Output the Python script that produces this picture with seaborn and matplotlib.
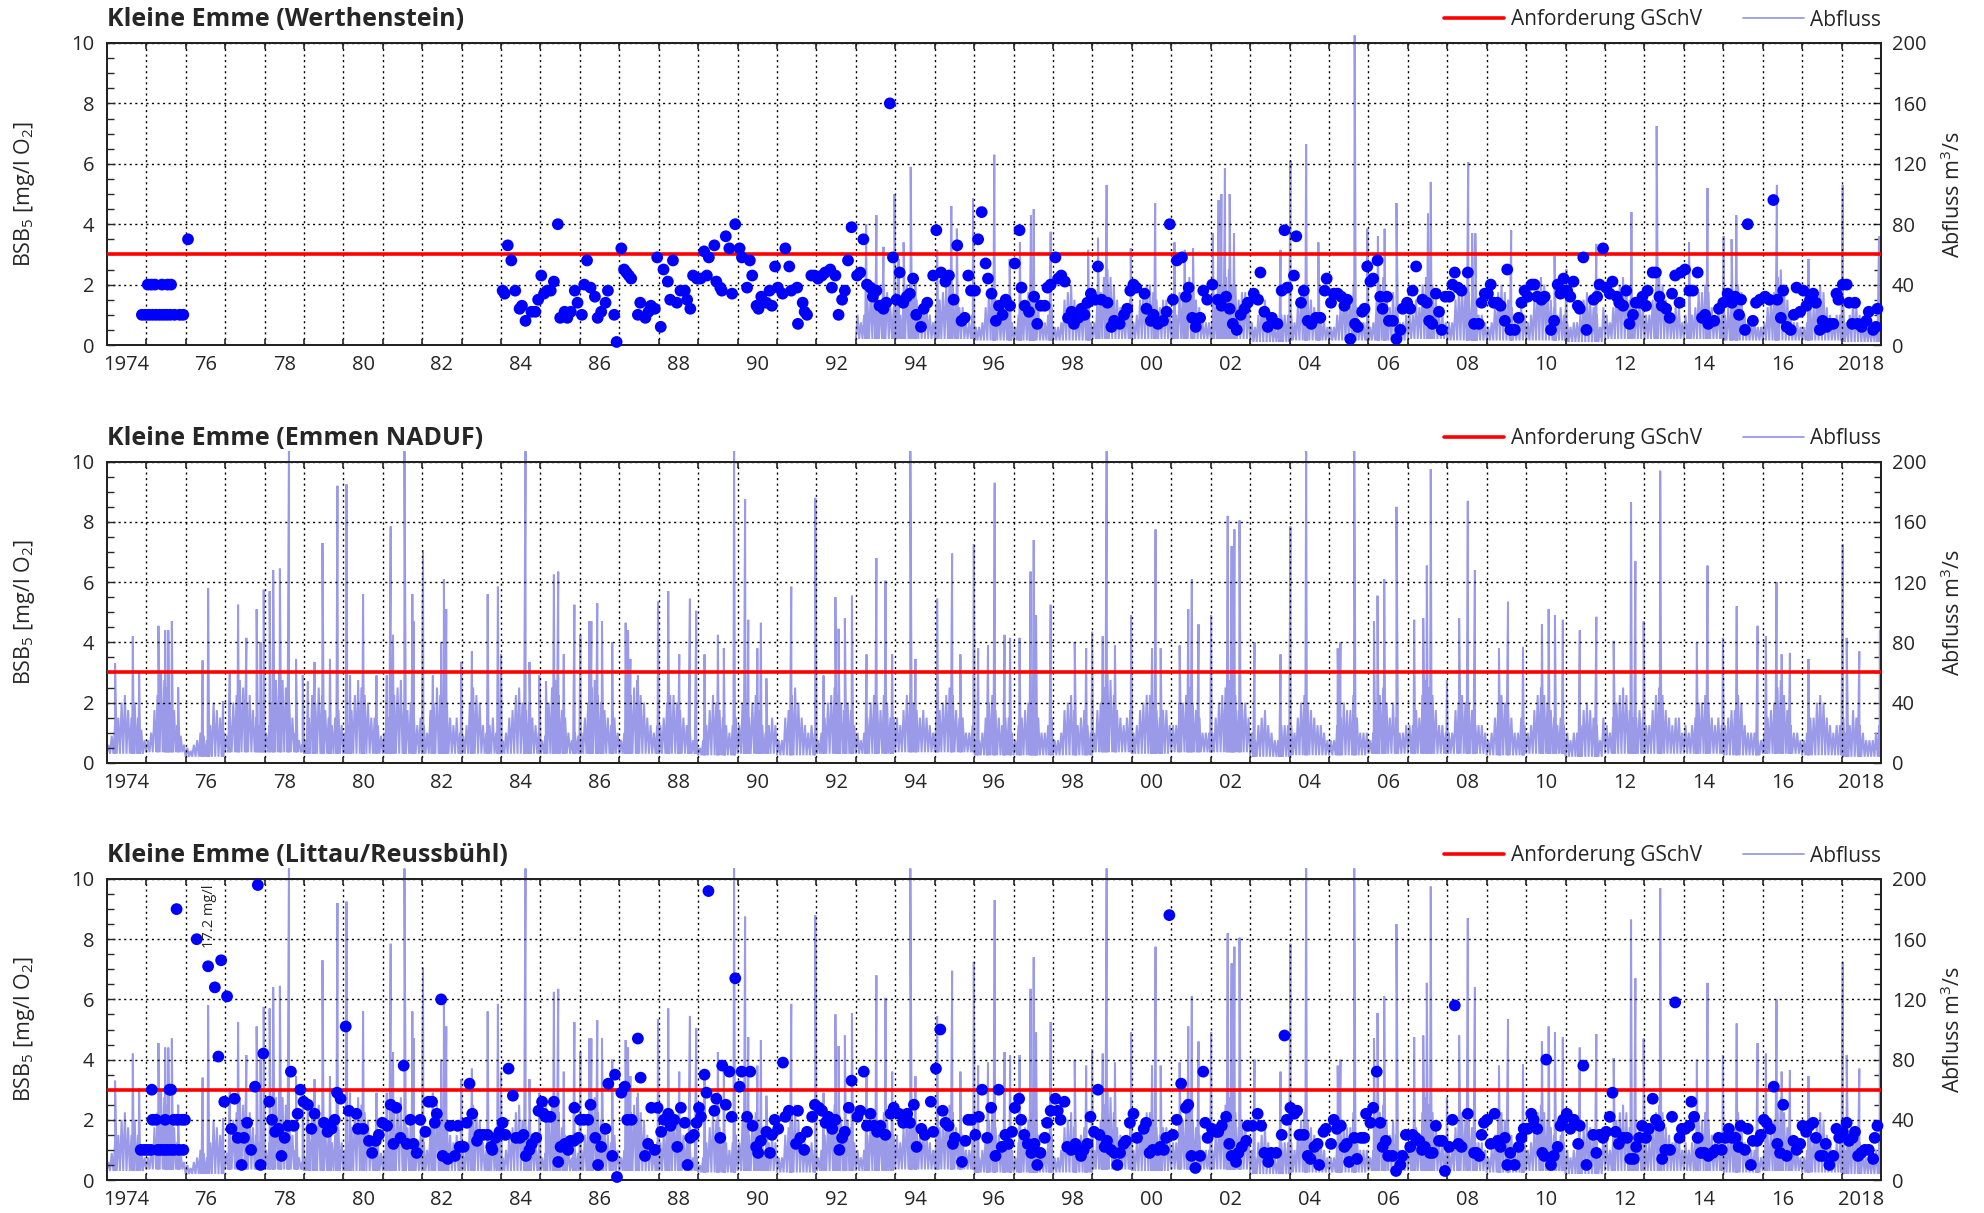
import matplotlib
matplotlib.use("Agg")
import matplotlib.pyplot as plt
from matplotlib.lines import Line2D
from matplotlib.ticker import MultipleLocator, FixedLocator
import seaborn as sns
import pandas as pd

# ---------------- data ----------------
panel_titles = ["Kleine Emme (Werthenstein)", "Kleine Emme (Emmen NADUF)", "Kleine Emme (Littau/Reussbühl)"]
gschv_limit = 3.0
year_labels = ["1974", "76", "78", "80", "82", "84", "86", "88", "90", "92", "94", "96", "98",
               "00", "02", "04", "06", "08", "10", "12", "14", "16", "2018"]
annotation_text = "17.2 mg/l"

# BSB5 samples Werthenstein (decimal year, mg/l O2)
wert_samples = [
(1974.89,1.0),(1974.98,1.0),(1975.07,1.0),(1975.16,1.0),(1975.25,1.0),(1975.34,1.0),(1975.43,1.0),(1975.52,1.0),(1975.61,1.0),(1975.72,1.0),(1975.85,1.0),(1975.94,1.0),
(1975.04,2.0),(1975.13,2.0),(1975.22,2.0),(1975.40,2.0),(1975.54,2.0),(1975.63,2.0),(1976.06,3.5),
(1984.04,1.8),(1984.09,1.7),(1984.17,3.3),(1984.26,2.8),(1984.36,1.8),(1984.47,1.2),(1984.53,1.3),(1984.62,0.8),(1984.77,1.1),(1984.87,1.1),(1984.94,1.5),(1985.02,2.3),(1985.09,1.7),(1985.17,1.8),(1985.26,1.8),(1985.34,2.1),(1985.44,4.0),(1985.50,0.9),(1985.61,1.1),(1985.68,0.9),(1985.77,1.1),(1985.87,1.8),(1985.94,1.4),
(1986.05,1.0),(1986.11,2.0),(1986.18,2.8),(1986.27,1.9),(1986.38,1.6),(1986.45,0.9),(1986.54,1.1),(1986.65,1.4),(1986.71,1.8),(1986.87,1.0),(1986.93,0.1),
(1987.05,3.2),(1987.12,2.5),(1987.18,2.4),(1987.24,2.3),(1987.30,2.2),(1987.47,1.0),(1987.53,1.4),(1987.66,0.9),(1987.74,1.1),(1987.80,1.3),(1987.90,1.2),(1987.96,2.9),
(1988.05,0.6),(1988.12,2.5),(1988.23,2.1),(1988.29,1.5),(1988.36,2.8),(1988.46,1.4),(1988.55,1.8),(1988.66,1.8),(1988.72,1.5),(1988.80,1.2),(1988.87,2.3),(1988.97,2.2),
(1989.06,2.2),(1989.15,3.1),(1989.22,2.3),(1989.27,2.9),(1989.41,3.3),(1989.46,2.1),(1989.56,1.9),(1989.60,1.8),(1989.70,3.6),(1989.79,3.2),(1989.86,1.7),(1989.94,4.0),
(1990.05,3.2),(1990.11,2.9),(1990.24,1.9),(1990.31,2.8),(1990.37,2.3),(1990.48,1.3),(1990.53,1.2),(1990.60,1.6),(1990.73,1.4),(1990.81,1.8),(1990.87,1.3),(1990.95,2.6),
(1991.02,1.9),(1991.14,1.7),(1991.21,3.2),(1991.31,2.6),(1991.36,1.8),(1991.51,1.9),(1991.53,0.7),(1991.65,1.4),(1991.70,1.1),(1991.76,1.0),(1991.87,2.3),(1991.95,2.3),
(1992.04,2.2),(1992.14,2.3),(1992.22,2.4),(1992.35,2.5),(1992.39,1.9),(1992.48,2.3),(1992.56,1.0),(1992.65,1.5),(1992.72,1.8),(1992.80,2.8),(1992.89,3.9),
(1993.03,2.3),(1993.11,2.4),(1993.19,3.5),(1993.28,2.0),(1993.37,1.9),(1993.43,1.6),(1993.52,1.8),(1993.60,1.3),(1993.70,1.2),(1993.77,1.4),(1993.86,8.0),(1993.94,2.9),
(1994.03,1.5),(1994.11,2.4),(1994.20,1.4),(1994.29,1.6),(1994.37,1.7),(1994.45,2.2),(1994.53,1.0),(1994.65,0.6),(1994.72,1.2),(1994.81,1.4),(1994.96,2.3),
(1995.04,3.8),(1995.16,2.4),(1995.27,2.1),(1995.36,2.3),(1995.48,1.5),(1995.57,3.3),
(1995.68,0.8),(1995.76,0.9),(1995.85,2.3),(1995.92,1.8),
(1996.02,1.8),(1996.10,3.5),(1996.19,4.4),(1996.29,2.7),(1996.35,2.2),(1996.44,1.7),(1996.55,0.8),(1996.63,1.3),(1996.72,1.0),(1996.80,1.5),(1996.91,1.3),
(1997.03,2.7),(1997.15,3.8),(1997.20,1.9),(1997.28,1.3),(1997.39,1.1),(1997.52,1.6),(1997.60,0.7),(1997.69,1.3),(1997.79,1.3),(1997.86,1.9),(1997.94,2.0),
(1998.06,2.9),(1998.13,2.2),(1998.21,2.3),(1998.30,2.1),(1998.38,0.9),(1998.47,1.1),(1998.53,0.7),(1998.64,0.9),(1998.72,1.2),(1998.80,1.0),(1998.87,1.4),(1998.96,1.7),
(1999.06,1.5),(1999.14,2.6),(1999.23,1.5),(1999.38,1.4),(1999.48,0.6),(1999.55,0.8),(1999.69,0.7),(1999.80,1.0),(1999.88,1.2),(1999.96,1.8),
(2000.04,2.0),(2000.11,1.9),(2000.32,1.7),(2000.37,1.2),(2000.48,0.8),(2000.55,1.0),(2000.66,0.7),(2000.79,0.8),(2000.88,1.1),(2000.96,4.0),
(2001.04,1.5),(2001.14,2.8),(2001.27,2.9),(2001.37,1.6),(2001.44,1.9),(2001.53,0.9),(2001.62,0.6),(2001.73,0.9),(2001.81,1.8),(2001.91,1.5),
(2002.04,2.0),(2002.18,1.5),(2002.27,1.3),(2002.39,1.6),(2002.48,1.2),(2002.56,0.7),(2002.66,0.5),(2002.76,1.0),(2002.86,1.2),(2002.94,1.4),
(2003.09,1.7),(2003.20,1.5),(2003.26,2.4),(2003.36,1.1),(2003.45,0.6),(2003.55,0.9),(2003.69,0.7),(2003.80,1.8),(2003.87,3.8),(2003.94,1.9),
(2004.11,2.3),(2004.17,3.6),(2004.29,1.4),(2004.36,1.8),(2004.46,0.8),(2004.55,0.7),(2004.67,0.9),(2004.78,0.9),(2004.89,1.8),(2004.94,2.2),
(2005.05,1.4),(2005.12,1.7),(2005.22,1.7),(2005.31,1.6),(2005.39,1.3),(2005.46,1.5),(2005.54,0.2),(2005.66,0.7),(2005.73,0.6),(2005.84,1.1),(2005.90,1.2),(2005.97,2.6),
(2006.05,2.1),(2006.12,2.2),(2006.23,2.8),(2006.30,1.6),(2006.36,1.2),(2006.47,1.6),(2006.52,0.8),(2006.62,0.8),(2006.71,0.2),(2006.81,0.5),(2006.87,1.2),(2006.98,1.4),
(2007.06,1.2),(2007.12,1.8),(2007.21,2.6),
(2007.37,1.5),(2007.48,1.4),(2007.54,0.8),(2007.62,0.7),(2007.71,1.7),(2007.79,1.1),(2007.86,0.5),(2007.95,1.6),
(2008.05,1.6),(2008.13,2.0),(2008.19,2.4),(2008.27,1.9),(2008.36,1.8),(2008.52,2.4),(2008.68,0.7),(2008.80,0.7),(2008.87,1.4),(2008.95,1.7),
(2009.03,1.7),(2009.10,2.0),(2009.18,1.4),(2009.27,1.4),(2009.35,1.3),(2009.46,0.8),(2009.52,2.5),(2009.60,0.5),(2009.71,0.5),(2009.81,0.9),(2009.88,1.4),(2009.96,1.8),
(2010.04,1.6),(2010.14,2.0),(2010.21,2.0),(2010.28,1.6),(2010.39,1.5),(2010.47,1.6),(2010.63,0.5),(2010.71,0.8),(2010.80,2.0),(2010.87,1.7),(2010.95,2.2),
(2011.04,1.8),(2011.12,1.6),(2011.20,2.1),(2011.31,1.3),(2011.36,1.2),(2011.45,2.9),(2011.53,0.5),(2011.71,1.5),(2011.80,1.6),(2011.86,2.0),(2011.95,3.2),
(2012.03,1.9),(2012.12,1.7),(2012.19,2.1),(2012.30,1.6),(2012.36,1.4),(2012.46,1.3),(2012.54,1.8),(2012.62,0.7),(2012.71,1.0),(2012.78,1.4),(2012.87,1.4),(2012.95,1.6),
(2013.04,1.3),(2013.08,1.8),(2013.21,2.4),(2013.29,2.4),(2013.38,1.6),(2013.44,1.3),(2013.55,1.2),(2013.64,0.9),(2013.70,1.7),(2013.78,2.3),(2013.89,1.4),(2013.92,2.4),
(2014.03,2.5),(2014.14,1.8),(2014.23,1.8),(2014.35,2.4),(2014.46,0.9),(2014.54,1.0),(2014.62,0.7),(2014.77,0.8),(2014.89,1.2),
(2015.00,1.4),(2015.11,1.7),(2015.22,1.4),(2015.30,1.6),(2015.40,1.0),(2015.45,1.5),(2015.55,0.5),(2015.62,4.0),(2015.75,0.8),(2015.83,1.4),(2015.93,1.5),
(2016.06,1.6),(2016.17,1.5),(2016.27,4.8),(2016.37,1.5),(2016.46,0.9),(2016.52,1.8),(2016.61,0.6),(2016.71,0.5),(2016.79,1.0),(2016.86,1.9),(2016.95,1.1),
(2017.03,1.8),(2017.11,1.3),(2017.20,1.5),(2017.28,1.7),(2017.35,1.4),(2017.45,0.5),(2017.52,0.8),(2017.62,0.6),(2017.70,0.7),(2017.79,0.7),(2017.87,1.7),(2017.92,1.5),
(2018.03,2.0),(2018.13,2.0),(2018.19,1.4),(2018.27,0.7),(2018.34,1.4),(2018.41,0.7),(2018.51,0.6),(2018.63,0.8),(2018.69,1.1),(2018.80,0.5),(2018.87,0.6),(2018.91,1.2),
]

# BSB5 samples Littau/Reussbuehl (decimal year, mg/l O2)
littau_samples = [
(1974.86,1.0),(1974.95,1.0),(1975.03,1.0),(1975.12,1.0),(1975.29,1.0),(1975.37,1.0),(1975.46,1.0),(1975.54,1.0),(1975.63,1.0),(1975.71,1.0),(1975.83,1.0),(1975.94,1.0),
(1975.16,2.0),(1975.25,2.0),(1975.48,2.0),(1975.70,2.0),(1975.79,2.0),(1975.90,2.0),(1975.98,2.0),
(1975.14,3.0),(1975.59,3.0),(1975.63,3.0),(1975.77,9.0),
(1976.28,8.0),(1976.57,7.1),(1976.74,6.4),(1976.90,7.3),(1977.05,6.1),(1976.83,4.1),(1976.98,2.6),
(1977.16,1.7),(1977.24,2.7),(1977.32,1.4),(1977.42,0.5),(1977.48,1.4),(1977.56,1.9),(1977.66,1.0),(1977.76,3.1),(1977.83,9.8),(1977.90,0.5),(1977.97,4.2),
(1978.12,2.6),(1978.19,2.0),(1978.27,1.6),(1978.36,1.7),(1978.43,0.8),(1978.51,1.4),(1978.60,1.8),(1978.67,3.6),(1978.74,1.8),(1978.84,2.2),(1978.91,3.0),(1978.99,2.6),
(1979.10,2.5),(1979.19,1.7),(1979.27,2.2),(1979.51,1.9),(1979.60,1.6),(1979.70,1.7),(1979.78,2.0),(1979.84,2.9),(1979.93,2.7),
(1980.06,5.1),(1980.14,2.3),(1980.33,2.2),(1980.37,1.7),(1980.50,1.7),(1980.65,1.3),(1980.73,0.9),(1980.82,1.3),(1980.90,1.5),(1980.99,1.9),
(1981.11,1.8),(1981.20,2.5),(1981.27,1.2),(1981.34,2.4),(1981.45,1.4),(1981.53,3.8),(1981.61,1.2),(1981.70,2.0),(1981.78,1.2),(1981.86,0.9),(1981.95,2.0),
(1982.08,1.6),(1982.16,2.6),(1982.25,2.6),(1982.32,1.9),(1982.37,2.2),(1982.48,6.0),(1982.52,0.8),(1982.65,0.7),(1982.71,1.8),(1982.83,0.8),(1982.90,1.8),(1982.95,1.1),
(1983.05,1.1),(1983.13,1.9),(1983.20,3.2),(1983.27,2.2),(1983.39,1.3),(1983.45,1.5),(1983.55,1.5),(1983.66,1.5),(1983.75,1.1),(1983.78,1.0),(1983.86,1.4),(1983.96,1.6),
(1984.04,1.9),(1984.11,1.5),(1984.19,3.7),(1984.30,2.8),(1984.38,1.4),(1984.48,1.4),(1984.57,1.5),(1984.63,0.8),(1984.72,1.0),(1984.78,1.2),(1984.89,1.4),(1984.95,2.3),
(1985.04,2.6),(1985.08,2.2),(1985.14,2.1),(1985.25,2.1),
(1985.34,2.6),(1985.45,0.6),(1985.51,1.1),(1985.62,1.2),(1985.70,1.0),(1985.76,1.3),(1985.85,1.3),(1985.86,2.4),(1985.96,1.4),
(1986.01,2.0),(1986.10,2.0),(1986.21,2.0),(1986.27,2.5),(1986.39,1.4),(1986.46,0.5),(1986.54,1.1),(1986.65,1.7),(1986.72,3.2),(1986.82,0.8),(1986.89,3.5),(1986.94,0.1),
(1987.05,2.9),(1987.14,3.1),(1987.20,2.0),(1987.31,2.0),(1987.47,4.7),(1987.54,3.4),(1987.65,0.8),(1987.73,1.2),(1987.81,2.4),(1987.90,1.0),(1987.97,2.4),
(1988.06,1.6),(1988.13,2.0),(1988.24,2.2),(1988.30,1.8),(1988.39,2.0),(1988.47,1.1),(1988.56,2.4),(1988.66,1.9),(1988.73,0.5),(1988.80,1.4),(1988.89,1.5),(1988.96,1.9),
(1989.02,2.4),(1989.07,2.1),(1989.16,3.5),(1989.21,2.9),(1989.26,9.6),(1989.41,2.3),(1989.46,2.7),(1989.56,1.4),(1989.61,3.8),(1989.70,2.5),(1989.79,3.6),(1989.85,2.1),(1989.94,6.7),
(1990.05,3.1),(1990.10,3.6),(1990.24,2.1),(1990.32,3.6),(1990.38,1.8),(1990.47,1.1),(1990.52,0.9),(1990.59,1.3),(1990.73,1.6),(1990.82,0.9),(1990.87,1.5),(1990.94,2.0),
(1991.03,1.7),(1991.15,3.9),(1991.21,2.1),(1991.30,2.3),(1991.48,1.2),(1991.53,2.3),(1991.59,1.4),(1991.69,1.0),(1991.76,1.6),(1991.89,2.1),(1991.96,2.5),
(1992.06,2.4),(1992.14,2.3),(1992.23,1.9),(1992.30,2.1),(1992.40,1.7),(1992.48,2.0),(1992.58,1.0),(1992.65,1.4),(1992.72,1.6),(1992.82,2.4),(1992.89,3.3),
(1993.04,2.1),(1993.11,2.3),(1993.20,3.6),(1993.28,1.8),(1993.37,2.2),(1993.45,1.8),(1993.54,1.6),(1993.62,1.8),(1993.75,1.5),(1993.88,2.2),(1993.96,2.4),
(1994.09,2.2),(1994.20,1.9),(1994.30,2.2),(1994.37,1.9),(1994.47,2.5),(1994.54,1.1),(1994.66,1.7),(1994.75,1.5),(1994.90,2.6),(1994.96,1.6),
(1995.03,3.7),(1995.14,5.0),(1995.20,2.3),(1995.27,1.9),(1995.35,1.8),(1995.46,1.2),(1995.51,1.4),(1995.69,0.6),(1995.78,1.3),(1995.85,2.0),(1995.93,2.0),
(1996.03,1.5),(1996.12,2.1),(1996.20,3.0),(1996.33,1.4),
(1996.43,2.4),(1996.54,0.8),(1996.62,3.0),(1996.70,1.1),(1996.79,1.5),(1996.87,1.2),(1996.96,1.6),
(1997.03,2.4),(1997.14,2.7),(1997.19,2.0),(1997.27,1.5),(1997.36,1.2),(1997.45,0.9),(1997.53,1.2),(1997.60,0.5),(1997.68,0.9),(1997.79,1.4),(1997.85,1.9),(1997.94,2.3),
(1998.06,2.7),(1998.12,2.3),(1998.19,2.0),(1998.29,2.6),(1998.36,1.1),(1998.46,1.0),(1998.57,1.2),(1998.63,1.0),(1998.71,0.8),(1998.78,1.0),(1998.87,1.2),(1998.95,2.1),
(1999.04,1.6),(1999.14,3.0),(1999.18,1.5),(1999.31,1.1),(1999.37,1.3),(1999.47,1.0),(1999.56,0.9),(1999.63,0.5),(1999.70,0.9),(1999.79,1.2),(1999.85,1.3),(1999.95,1.9),
(2000.04,2.2),(2000.13,1.4),(2000.30,1.7),(2000.36,1.9),(2000.45,0.9),(2000.53,1.0),(2000.66,1.0),(2000.72,1.1),(2000.81,1.0),(2000.87,1.4),(2000.95,8.8),
(2001.04,1.5),(2001.14,2.0),(2001.25,3.2),(2001.37,2.4),(2001.43,2.5),(2001.51,0.8),(2001.61,0.4),(2001.73,0.8),(2001.81,3.6),(2001.86,1.9),(2001.92,1.4),
(2002.03,1.7),(2002.14,1.6),(2002.19,1.6),(2002.28,1.8),(2002.39,2.1),(2002.47,1.2),(2002.53,0.8),(2002.64,0.6),(2002.70,0.9),(2002.79,1.1),(2002.90,1.3),(2002.94,1.8),
(2003.06,1.8),(2003.19,2.2),(2003.28,1.8),(2003.36,0.9),(2003.46,0.6),(2003.53,0.9),(2003.66,0.9),(2003.80,1.5),(2003.87,4.8),(2003.93,2.0),
(2004.02,2.4),(2004.12,2.2),(2004.19,2.3),(2004.25,1.5),(2004.36,1.5),(2004.46,0.8),(2004.53,0.7),(2004.63,1.1),(2004.71,1.2),(2004.75,0.5),(2004.86,1.6),(2004.92,1.7),
(2005.05,1.2),(2005.12,2.0),(2005.20,1.7),(2005.30,1.8),(2005.39,1.1),(2005.45,1.2),(2005.51,0.6),(2005.64,1.4),(2005.71,0.7),(2005.81,1.4),(2005.89,1.4),(2005.94,2.2),
(2006.05,1.9),(2006.12,2.4),(2006.21,3.6),(2006.30,1.9),(2006.36,1.1),(2006.44,1.3),(2006.50,0.8),(2006.61,0.8),(2006.70,0.3),(2006.81,0.5),(2006.86,0.8),(2006.95,1.5),
(2007.06,1.1),(2007.12,1.5),(2007.20,1.4),(2007.29,1.3),(2007.36,1.0),(2007.43,1.1),
(2007.56,0.9),(2007.63,0.9),(2007.71,1.8),(2007.79,1.3),(2007.87,1.3),(2007.94,0.3),
(2008.05,1.1),(2008.13,2.0),(2008.19,5.8),(2008.28,1.2),(2008.36,1.1),(2008.52,2.2),(2008.68,0.9),(2008.74,0.9),(2008.81,0.8),(2008.87,1.5),(2008.93,1.9),
(2009.01,2.0),(2009.10,1.2),(2009.20,2.2),(2009.28,1.3),(2009.35,1.1),(2009.46,1.4),(2009.52,0.5),(2009.60,0.9),(2009.71,0.5),(2009.81,1.1),(2009.88,1.4),(2009.94,1.7),
(2010.04,1.7),(2010.13,2.2),(2010.19,2.0),(2010.28,1.7),(2010.41,0.9),(2010.46,0.8),(2010.51,4.0),(2010.63,0.5),(2010.70,0.8),(2010.80,1.1),(2010.87,1.8),(2010.94,2.0),
(2011.03,2.2),(2011.12,1.7),(2011.21,2.0),(2011.32,1.2),(2011.36,1.8),(2011.45,3.8),(2011.53,0.5),(2011.70,1.5),(2011.78,0.9),(2011.86,1.5),(2011.95,1.4),
(2012.03,1.6),(2012.12,2.1),(2012.19,2.9),(2012.27,1.6),(2012.35,1.2),(2012.46,1.4),(2012.56,1.4),(2012.64,0.7),(2012.73,0.7),(2012.79,1.1),(2012.87,1.4),(2012.94,1.8),
(2013.04,1.4),(2013.11,1.7),(2013.21,2.7),(2013.29,2.0),(2013.38,1.8),(2013.45,0.7),(2013.53,1.0),(2013.65,1.0),(2013.70,2.1),(2013.78,5.9),(2013.89,1.4),(2013.95,1.7),
(2014.04,1.7),(2014.14,1.8),(2014.19,2.6),(2014.26,2.1),(2014.35,1.4),(2014.43,0.9),(2014.52,0.9),(2014.62,0.8),(2014.73,0.9),(2014.81,1.0),(2014.88,1.4),(2014.96,1.0),
(2015.05,1.4),(2015.14,1.7),(2015.22,1.4),(2015.31,1.4),(2015.39,1.1),(2015.44,1.8),(2015.55,1.0),(2015.62,1.7),(2015.70,0.5),(2015.75,1.3),(2015.86,1.3),(2015.95,1.5),
(2016.03,2.0),(2016.10,1.9),(2016.19,1.7),(2016.28,3.1),(2016.37,1.2),(2016.44,0.9),(2016.52,2.5),(2016.61,0.8),(2016.78,1.3),(2016.86,1.0),(2016.95,1.2),
(2017.01,1.8),(2017.10,1.6),(2017.18,1.8),(2017.28,1.9),(2017.35,1.4),(2017.46,0.8),(2017.53,0.8),(2017.60,1.2),(2017.69,0.5),(2017.79,0.8),(2017.87,1.7),(2017.94,1.4),
(2018.03,1.6),(2018.13,1.9),(2018.19,1.3),(2018.28,1.4),(2018.34,1.6),(2018.42,0.8),(2018.50,0.9),(2018.59,1.0),(2018.69,1.0),(2018.80,0.7),(2018.84,1.4),(2018.91,1.8),
]

# Discharge Emmen (m3/s): monthly peak levels per year (Jan..Dec), yearly low-flow level, flood spikes
emmen_first_year = 1974
emmen_monthly = [
[12,18,25,30,40,45,35,30,40,30,22,15],[15,20,35,45,60,55,50,40,35,25,18,12],[10,8,12,15,20,18,15,25,40,35,30,20],
[18,30,40,45,55,50,40,45,35,30,25,20],[20,25,40,55,60,55,50,40,30,20,15,12],[15,30,45,40,50,45,35,30,25,30,35,25],
[20,25,35,45,55,50,45,40,30,30,25,18],[20,30,40,45,50,55,40,35,40,30,25,30],[25,20,35,40,50,45,35,40,30,25,30,20],
[18,25,40,50,45,40,25,20,25,30,20,15],[15,20,30,35,45,50,40,35,40,30,25,20],[15,18,40,50,55,45,35,30,20,15,20,18],
[20,30,40,50,55,45,40,35,30,25,30,20],[15,20,35,45,50,55,45,40,30,25,20,25],[25,30,40,45,45,40,35,30,25,20,15,15],
[10,15,25,35,45,40,35,30,25,20,25,30],[25,40,35,30,40,45,35,25,20,25,30,25],[15,15,30,35,45,50,40,30,25,20,25,20],
[15,20,30,40,45,50,45,40,35,40,35,25],[20,15,20,30,40,45,40,35,45,40,30,30],[30,25,35,45,45,40,35,30,35,30,25,20],
[30,35,40,45,50,45,35,30,30,20,20,25],[15,15,20,30,40,45,35,30,25,30,30,20],[15,25,30,35,40,45,40,30,20,20,25,30],
[15,15,20,35,40,45,35,25,30,35,25,20],[20,35,40,50,60,55,45,35,30,25,30,35],[20,25,35,40,45,45,40,35,30,35,35,25],
[25,25,40,40,45,50,40,35,30,20,20,20],[20,30,40,45,50,55,45,45,35,40,40,30],[20,15,25,30,35,25,20,15,15,25,25,25],
[25,20,30,40,45,40,35,30,25,25,20,15],[15,15,25,30,40,35,35,45,30,20,20,20],[15,20,35,45,50,40,30,40,30,20,20,25],
[25,25,35,30,45,55,50,45,35,25,25,20],[20,20,35,40,45,40,40,35,25,25,25,20],[15,20,30,40,45,40,35,30,20,20,30,25],
[20,25,35,45,50,45,40,35,30,25,30,25],[20,15,20,20,25,35,40,35,30,25,15,30],[25,20,30,40,45,50,45,35,30,30,35,30],
[25,25,35,45,50,45,35,30,25,30,30,20],[25,20,25,30,40,40,45,40,30,25,30,25],[25,30,35,35,45,40,25,20,20,20,15,15],
[20,30,35,40,50,55,45,35,25,20,20,15],[15,20,30,30,40,45,40,30,25,20,25,25],[30,20,25,35,30,25,20,15,15,15,20,25],
]
emmen_base = [6,7,4,7,7,6,6,6,6,6,6,6,6,6,6,5,6,5,6,6,7,7,5,5,5,7,6,7,7,4,5,5,6,6,6,5,6,4,6,6,6,5,6,5,4]
emmen_spikes = [
(1974.21,66),(1974.66,84),(1974.82,61),(1975.31,91),(1975.48,88),(1975.56,88),(1975.65,94),(1975.81,50),
(1976.43,68),(1976.57,116),(1976.95,41),(1977.12,61),(1977.33,105),(1977.54,83),(1977.80,102),(1977.90,80),(1977.98,115),
(1978.13,114),(1978.22,128),(1978.39,129),(1978.62,207),(1978.80,69),(1978.97,58),(1979.10,54),(1979.27,67),(1979.47,146),
(1979.66,69),(1979.85,184),(1980.08,185),(1980.17,58),(1980.50,112),(1980.84,58),(1981.10,58),(1981.20,157),(1981.26,85),
(1981.55,207),(1981.75,112),(1981.79,94),(1982.02,141),(1982.27,58),(1982.48,80),(1982.55,122),(1982.61,102),(1982.99,67),
(1983.26,74),(1983.66,112),(1983.92,117),(1984.00,72),(1984.62,207),(1984.72,67),(1984.97,58),(1985.14,54),
(1985.34,125),(1985.45,127),(1985.59,72),(1985.86,105),(1986.01,85),(1986.24,94),(1986.29,94),(1986.44,106),(1986.56,94),
(1986.82,80),(1987.16,93),(1987.22,88),(1987.28,69),(1987.47,58),(1987.98,107),(1988.24,114),(1988.52,72),(1988.79,109),
(1988.95,101),(1989.16,72),(1989.50,85),(1989.65,76),(1989.91,207),(1990.19,175),(1990.27,95),(1990.50,76),(1990.59,93),
(1990.73,56),(1991.36,117),(1991.97,176),(1992.18,58),(1992.48,110),(1992.56,89),(1992.72,96),(1992.90,111),(1993.27,72),
(1993.52,136),(1993.75,121),(1993.92,72),(1994.38,207),(1994.51,69),(1995.06,109),(1995.44,139),(1995.65,72),(1995.99,145),
(1996.10,76),(1996.35,78),(1996.52,186),(1996.77,85),(1996.91,83),(1997.15,83),(1997.43,127),(1997.51,148),(1997.57,98),
(1997.94,105),(1998.55,80),(1998.84,76),(1998.99,87),(1999.26,84),(1999.36,207),(1999.57,78),(1999.98,98),(2000.51,76),
(2000.60,155),(2000.73,76),(2001.21,78),(2001.43,102),(2001.52,122),(2001.69,92),(2002.01,98),(2002.43,164),(2002.53,144),
(2002.60,155),(2002.73,161),(2003.11,80),(2003.77,72),(2004.02,157),(2004.42,207),(2005.22,76),(2005.29,80),(2005.64,207),
(2006.14,94),(2006.23,111),(2006.40,122),(2006.71,170),(2007.16,95),(2007.39,96),(2007.48,131),(2007.58,195),(2007.99,55),
(2008.30,96),(2008.52,174),(2008.70,128),(2009.31,76),(2009.54,107),(2009.92,77),(2010.40,92),(2010.57,102),(2010.73,98),
(2010.93,95),(2011.36,88),(2011.78,97),(2012.22,81),(2012.66,173),(2012.77,134),(2012.98,94),(2013.40,194),(2014.33,80),
(2014.60,131),(2014.99,83),(2015.34,104),(2015.87,91),(2016.08,84),(2016.35,120),(2016.48,72),(2016.69,73),(2017.16,69),
(2018.03,145),(2018.13,83),(2018.45,74),(2018.97,88),
]

# Discharge Werthenstein (m3/s), from 1993
wert_first_year = 1993
wert_monthly = [
[20,15,20,30,35,40,35,30,40,35,25,25],[25,20,30,40,40,35,30,25,30,25,20,15],[25,30,35,40,45,40,30,25,25,15,15,20],
[12,12,15,25,35,40,30,25,20,25,25,15],[12,20,25,30,35,40,35,25,15,15,20,25],[12,12,15,30,35,40,30,20,25,30,20,15],
[15,30,35,45,50,45,40,30,25,20,25,30],[15,20,30,35,40,40,35,30,25,30,30,20],[20,20,35,35,40,45,35,30,25,15,15,15],
[15,25,35,40,45,50,40,40,30,35,35,25],[15,12,20,25,30,20,15,12,12,20,20,20],[20,15,25,35,40,35,30,25,20,20,15,12],
[12,12,20,25,35,30,30,40,25,15,15,15],[12,15,30,40,45,35,25,35,25,15,15,20],[20,20,30,25,40,45,45,40,30,20,20,15],
[15,15,30,35,40,35,35,30,20,20,20,15],[12,15,25,35,40,35,30,25,15,15,25,20],[15,20,30,40,45,40,35,30,25,20,25,20],
[15,12,15,15,20,30,35,30,25,20,12,25],[20,15,25,35,40,45,40,30,25,25,30,25],[20,20,30,40,45,40,30,25,20,25,25,15],
[20,15,20,25,35,35,40,35,25,20,25,20],[20,25,30,30,40,35,20,15,15,15,12,12],[15,25,30,35,45,50,40,30,20,15,15,12],
[12,15,25,25,35,40,35,25,20,15,20,20],[25,15,20,30,25,20,15,12,12,12,15,20],
]
wert_base = [4,4,4,3,3,3,4,4,4,4,2,3,3,3,4,3,3,3,2,4,4,4,3,3,3,2]
wert_spikes = [
(1993.26,80),(1993.52,86),(1993.70,65),(1993.98,100),(1994.08,57),(1994.21,68),(1994.39,118),(1994.51,46),(1995.06,63),
(1995.42,92),(1995.56,77),(1995.97,97),(1996.51,126),(1996.90,57),(1997.16,68),(1997.44,86),(1997.51,90),(1997.94,75),
(1998.89,63),(1999.14,71),(1999.36,106),(1999.97,64),(2000.59,94),(2001.08,68),(2001.34,63),(2001.55,64),(2002.05,74),
(2002.20,96),(2002.27,100),(2002.36,117),(2002.48,100),(2002.59,74),(2003.77,63),(2004.02,122),(2004.42,133),(2004.73,68),
(2005.65,205),(2005.97,77),(2006.24,72),(2006.41,77),(2006.71,94),(2007.51,87),(2007.58,108),(2008.53,121),(2008.63,74),
(2008.71,74),(2009.62,76),(2010.72,59),(2011.02,50),(2011.78,67),(2012.67,88),(2013.31,145),(2014.13,68),(2014.60,104),
(2015.01,72),(2015.21,70),(2015.33,86),(2016.36,106),(2017.16,57),(2018.03,106),(2018.95,72),
]


def build_flow(first_year, monthly, base, spikes):
    peaks = [(first_year + i + (m + 0.5) / 12.0, v)
             for i, row in enumerate(monthly) for m, v in enumerate(row)]
    peaks += list(spikes)
    peaks.sort()
    t_out = [float(first_year)]
    q_out = [base[0]]
    for k, (t, v) in enumerate(peaks):
        if k:
            tm = 0.5 * (peaks[k - 1][0] + t)
            t_out.append(tm)
            q_out.append(base[min(int(tm) - first_year, len(base) - 1)])
        t_out.append(t)
        q_out.append(v)
    return pd.DataFrame({"jahr": t_out, "abfluss": q_out})


flow_emmen = build_flow(emmen_first_year, emmen_monthly, emmen_base, emmen_spikes)
flow_wert = build_flow(wert_first_year, wert_monthly, wert_base, wert_spikes)
bsb_wert = pd.DataFrame(wert_samples, columns=["jahr", "bsb"])
bsb_littau = pd.DataFrame(littau_samples, columns=["jahr", "bsb"])

# ---------------- style ----------------
sns.set_style("white")
plt.rcParams["font.family"] = ["Open Sans", "DejaVu Sans"]
plt.rcParams["mathtext.fontset"] = "custom"
plt.rcParams["mathtext.rm"] = "Open Sans"
plt.rcParams["mathtext.it"] = "Open Sans"

RED = "#ff0000"
FLOW = "#9a9ae8"
DOT = "#0000ff"
BG = "#e5e5e5"
FS = 14.5

fig = plt.figure(figsize=(19.84, 12.13), dpi=100)
W, H = 1984.0, 1213.0
left, right = 106.8 / W, 1881.0 / W
panel_px = [(43.0, 345.0), (461.7, 762.8), (879.0, 1180.0)]

panels = [(panel_titles[0], bsb_wert, flow_wert),
          (panel_titles[1], None, flow_emmen),
          (panel_titles[2], bsb_littau, flow_emmen)]

for idx, ((title, bsb, flow), (top_px, bot_px)) in enumerate(zip(panels, panel_px)):
    ax = fig.add_axes([left, 1 - bot_px / H, right - left, (bot_px - top_px) / H])
    ax2 = ax.twinx()
    ax.set_zorder(ax2.get_zorder() + 1)
    ax.patch.set_visible(False)
    ax2.set_facecolor(BG)

    sns.lineplot(data=flow, x="jahr", y="abfluss", ax=ax2, color=FLOW, lw=1.45,
                 estimator=None, sort=False, legend=False)
    for ln in ax2.lines:
        ln.set_clip_on(False)
        ln.set_solid_joinstyle("miter")

    ax.axhline(gschv_limit, color=RED, lw=2.6, zorder=3)
    if bsb is not None:
        sns.scatterplot(data=bsb, x="jahr", y="bsb", ax=ax, color=DOT, s=72,
                        edgecolor="none", linewidth=0, zorder=5, clip_on=False, legend=False)

    ax.set_xlim(1974, 2019)
    ax.set_ylim(0, 10)
    ax2.set_ylim(0, 200)

    ax.xaxis.set_major_locator(FixedLocator(list(range(1975, 2019))))
    ax.xaxis.set_minor_locator(FixedLocator([1974.5 + 2 * i for i in range(len(year_labels))]))
    ax.set_xticklabels([], minor=False)
    ax.set_xticklabels(year_labels, minor=True)
    ax.tick_params(axis="x", which="minor", length=0, labelsize=FS, pad=7)
    ax.tick_params(axis="x", which="major", direction="in", length=4.5, width=1.2,
                   bottom=True, top=True, pad=7)

    ax.yaxis.set_major_locator(MultipleLocator(2))
    ax.yaxis.set_minor_locator(MultipleLocator(0.5))
    ax.tick_params(axis="y", which="both", direction="in", left=True, right=False,
                   labelsize=FS, pad=9)
    ax.tick_params(axis="y", which="major", length=6, width=1)
    ax.tick_params(axis="y", which="minor", length=5, width=1)

    ax2.yaxis.set_major_locator(MultipleLocator(40))
    ax2.yaxis.set_minor_locator(MultipleLocator(10))
    ax2.tick_params(axis="y", which="both", direction="in", right=True, left=False,
                    labelsize=FS, pad=8)
    ax2.tick_params(axis="y", which="major", length=6, width=1)
    ax2.tick_params(axis="y", which="minor", length=5, width=1)

    ax.grid(True, which="major", axis="both", color="black", ls=(0, (1.5, 2.5)), lw=1.0)
    ax2.grid(False)

    ax.set_xlabel("")
    ax.set_ylabel("")
    ax2.set_ylabel("")
    for a in (ax, ax2):
        for sp in a.spines.values():
            sp.set_color("#222222")
            sp.set_linewidth(1.4)

    ycen = 1 - 0.5 * (top_px + bot_px) / H
    fig.text(25 / W, ycen, "BSB$_5$ [mg/l O$_2$]", rotation=90, ha="center", va="center",
             fontsize=15.5)
    fig.text(1953 / W, ycen, "Abfluss m$^3$/s", rotation=90, ha="center", va="center",
             fontsize=15.5)

    ax.annotate(title, xy=(0, 1), xycoords="axes fraction", xytext=(0, 17),
                textcoords="offset points", ha="left", va="center",
                fontsize=18, fontweight="bold")

    handles = [Line2D([], [], color=RED, lw=2.6), Line2D([], [], color=FLOW, lw=1.3)]
    ax.legend(handles, ["Anforderung GSchV", "Abfluss"], loc="center right",
              bbox_to_anchor=(1.0, 1 + 23.0 / (bot_px - top_px)), ncol=2, frameon=False,
              fontsize=15, handlelength=2.9, handletextpad=0.3, columnspacing=2.0,
              borderpad=0, borderaxespad=0)

    if idx == 2:
        ax.text(1976.6, 8.75, annotation_text, rotation=90, ha="center", va="center",
                fontsize=10.5, zorder=6)

fig.savefig("out.png", dpi=100)
